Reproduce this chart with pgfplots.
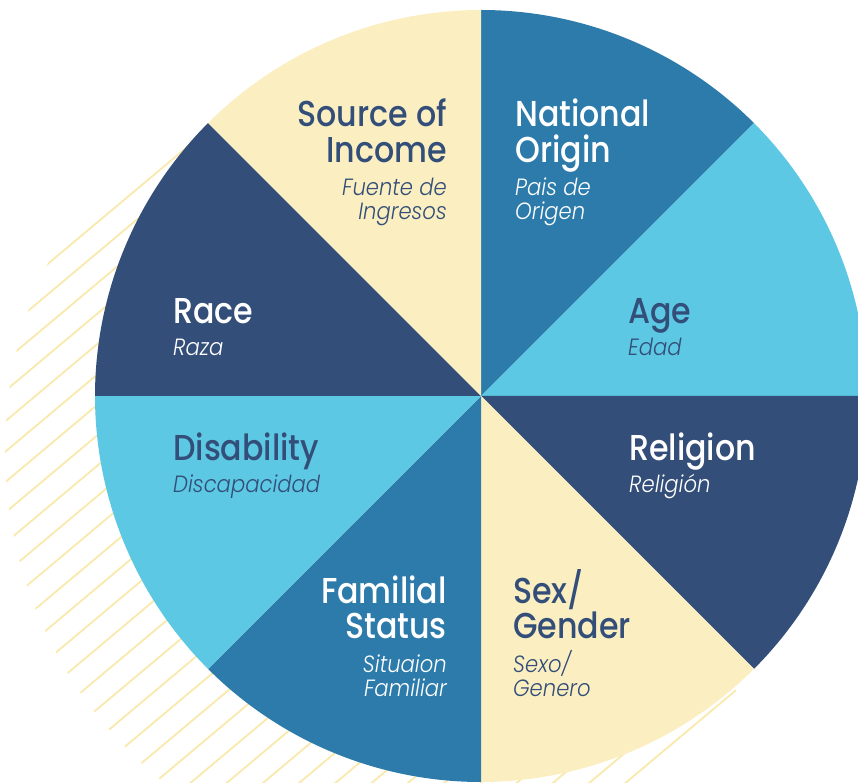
\documentclass[border=0pt]{standalone}
\usepackage{pgfplots}
\pgfplotsset{compat=1.18}
\usepackage{pgfplotstable}
\usepackage{fontspec}
\setmainfont{Poppins}
\IfFontExistsTF{Poppins Medium}{\newfontfamily\tf{Poppins Medium}[FakeStretch=0.88]}{\newfontfamily\tf{Poppins}[FakeStretch=0.88]}
\IfFontExistsTF{Poppins Light Italic}{\newfontfamily\subf{Poppins Light Italic}[FakeStretch=0.9]}{\newfontfamily\subf{Poppins Italic}[FakeStretch=0.9]}
\definecolor{cnavy}{RGB}{51,78,120}
\definecolor{cmid}{RGB}{44,123,171}
\definecolor{ccyan}{RGB}{92,200,227}
\definecolor{ccream}{RGB}{251,239,194}
\definecolor{chatch}{RGB}{250,233,172}
\newcommand\labT[1]{{\tf\fontsize{36}{36}\selectfont #1}}
\newcommand\labS[1]{{\subf\fontsize{23.5}{24}\selectfont #1}}
\pgfplotstableread{
name share col
NationalOrigin 12.5 cmid
Age 12.5 ccyan
Religion 12.5 cnavy
SexGender 12.5 ccream
FamilialStatus 12.5 cmid
Disability 12.5 ccyan
Race 12.5 cnavy
SourceOfIncome 12.5 ccream
}\slices
\begin{document}
\begin{tikzpicture}
% decorative hatching behind the pie
\begin{scope}[x=1pt,y=-1pt,yshift=782pt]
\clip (0,0) rectangle (858,782);
\clip (432,450) circle[radius=427];
\foreach \k in {0,...,33}{
  \pgfmathsetmacro\c{232.9+23.3*\k}
  \draw[chatch, line width=1.8pt] ({\c*0.6428-1500*0.7660},{\c*0.7660+1500*0.6428}) -- ({\c*0.6428+120*0.7660},{\c*0.7660-120*0.6428});
}
\end{scope}
\begin{axis}[hide axis, scale only axis, width=858pt, height=782pt,
  xmin=0, xmax=858, ymin=-782, ymax=0, clip mode=global,
  at={(0,0)}, anchor=south west]
\def\curang{90}
\pgfplotsinvokeforeach{0,...,7}{
  \pgfplotstablegetelem{#1}{share}\of\slices \let\sh\pgfplotsretval
  \pgfplotstablegetelem{#1}{col}\of\slices \let\sc\pgfplotsretval
  \pgfmathsetmacro\nextang{\curang-3.6*\sh}
  \edef\tmp{\noexpand\fill[\sc] (axis cs:481,-396) -- ++(\curang:386pt) arc[start angle=\curang, end angle=\nextang, radius=386pt] -- cycle;}
  \tmp
  \global\let\curang\nextang
}
% labels
\node[anchor=base east, text=cnavy, inner sep=0] at (axis cs:447,-127) {\labT{Source of}};
\node[anchor=base east, text=cnavy, inner sep=0] at (axis cs:447,-163) {\labT{Income}};
\node[anchor=base east, text=cnavy, inner sep=0] at (axis cs:447,-195.5) {\labS{Fuente de}};
\node[anchor=base east, text=cnavy, inner sep=0] at (axis cs:447,-220) {\labS{Ingresos}};
\node[anchor=base west, text=white, inner sep=0] at (axis cs:515,-127) {\labT{National}};
\node[anchor=base west, text=white, inner sep=0] at (axis cs:515,-163) {\labT{Origin}};
\node[anchor=base west, text=white, inner sep=0] at (axis cs:515,-196) {\labS{Pais de}};
\node[anchor=base west, text=white, inner sep=0] at (axis cs:515,-220) {\labS{Origen}};
\node[anchor=base west, text=cnavy, inner sep=0] at (axis cs:628,-324) {\labT{Age}};
\node[anchor=base west, text=cnavy, inner sep=0] at (axis cs:628,-356) {\labS{Edad}};
\node[anchor=base west, text=white, inner sep=0] at (axis cs:629,-461) {\labT{Religion}};
\node[anchor=base west, text=white, inner sep=0] at (axis cs:629,-492) {\labS{Religión}};
\node[anchor=base west, text=white, inner sep=0] at (axis cs:173,-324) {\labT{Race}};
\node[anchor=base west, text=white, inner sep=0] at (axis cs:173,-356) {\labS{Raza}};
\node[anchor=base west, text=cnavy, inner sep=0] at (axis cs:173,-461) {\labT{Disability}};
\node[anchor=base west, text=cnavy, inner sep=0] at (axis cs:173,-492) {\labS{Discapacidad}};
\node[anchor=base east, text=white, inner sep=0] at (axis cs:447,-603) {\labT{Familial}};
\node[anchor=base east, text=white, inner sep=0] at (axis cs:447,-638) {\labT{Status}};
\node[anchor=base east, text=white, inner sep=0] at (axis cs:447,-672) {\labS{Situaion}};
\node[anchor=base east, text=white, inner sep=0] at (axis cs:447,-696) {\labS{Familiar}};
\node[anchor=base west, text=cnavy, inner sep=0] at (axis cs:513,-603) {\labT{Sex/}};
\node[anchor=base west, text=cnavy, inner sep=0] at (axis cs:513,-638) {\labT{Gender}};
\node[anchor=base west, text=cnavy, inner sep=0] at (axis cs:513,-672) {\labS{Sexo/}};
\node[anchor=base west, text=cnavy, inner sep=0] at (axis cs:513,-696) {\labS{Genero}};
\end{axis}
\pgfresetboundingbox
\useasboundingbox (0,0) rectangle (858pt,782pt);
\end{tikzpicture}
\end{document}
